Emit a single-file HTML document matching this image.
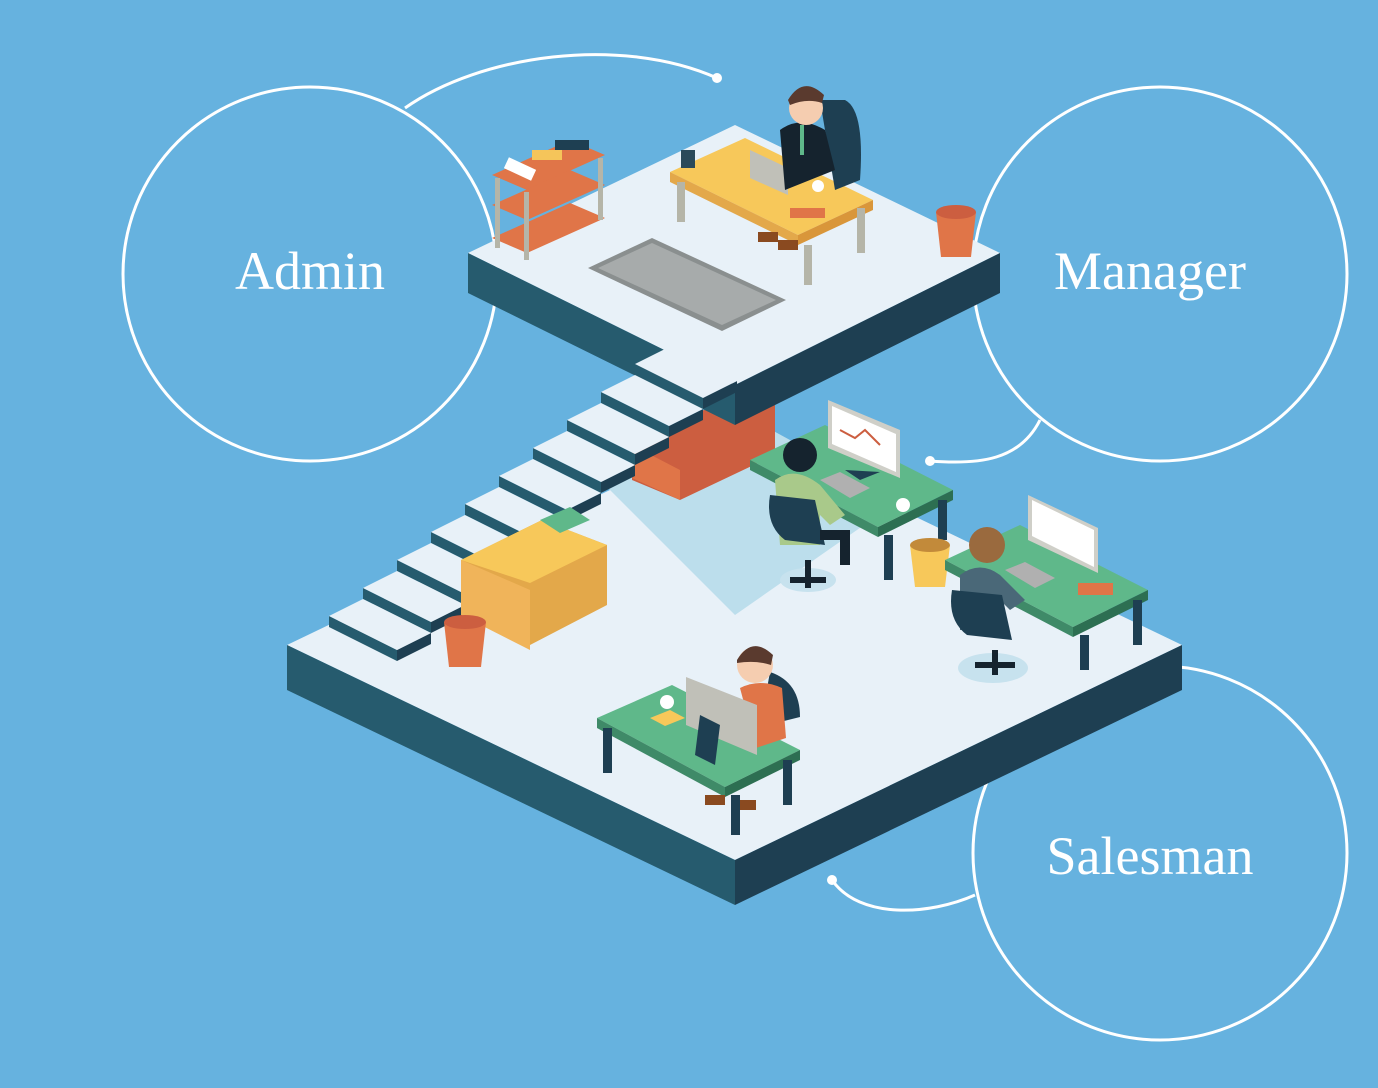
<!DOCTYPE html>
<html><head><meta charset="utf-8"><style>
html,body{margin:0;padding:0;background:#66b2df;}
svg{display:block}
text{font-family:"Liberation Serif",serif;fill:#fff;}
</style></head><body>
<svg width="1378" height="1088" viewBox="0 0 1378 1088" xmlns="http://www.w3.org/2000/svg">
<rect width="1378" height="1088" fill="#66b2df"/>
<g fill="none" stroke="#fff" stroke-width="3">
<circle cx="310" cy="274" r="187"/>
<circle cx="1160" cy="274" r="187"/>
<circle cx="1160" cy="853" r="187"/>
<path d="M405 108 C480 55 620 35 717 78"/>
<path d="M1040 420 C1020 460 980 465 930 461"/>
<path d="M975 895 C930 915 860 920 832 880"/>
</g>
<g fill="#fff"><circle cx="717" cy="78" r="5"/><circle cx="930" cy="461" r="5"/><circle cx="832" cy="880" r="5"/></g>
<text x="310" y="289" font-size="54" text-anchor="middle">Admin</text>
<text x="1150" y="289" font-size="54" text-anchor="middle">Manager</text>
<text x="1150" y="874" font-size="54" text-anchor="middle">Salesman</text>

<!-- lower platform -->
<polygon points="287,645 735,430 1182,645 735,860" fill="#e8f1f8"/>
<polygon points="287,645 735,860 735,905 287,690" fill="#265b6e"/>
<polygon points="735,860 1182,645 1182,690 735,905" fill="#1e3f52"/>
<polygon points="600,480 735,410 900,500 735,615" fill="#bcdeec"/>

<!-- orange cabinet -->
<polygon points="632,445 735,395 775,405 775,455 680,500 632,480" fill="#cc5e40"/>
<polygon points="632,445 680,470 680,500 632,478" fill="#e07548"/>

<!-- upper platform -->
<polygon points="468,253 735,125 1000,253 735,385" fill="#e8f1f8"/>
<polygon points="468,253 735,385 735,425 468,293" fill="#265b6e"/>
<polygon points="735,385 1000,253 1000,293 735,425" fill="#1e3f52"/>

<!-- stairs (top to bottom) -->
<g>
<polygon points="635,364 703,398 703,409 635,375" fill="#265b6e"/><polygon points="703,398 737,381 737,392 703,409" fill="#1e3f52"/><polygon points="635,364 669,347 737,381 703,398" fill="#e8f1f8"/>
<polygon points="601,392 669,426 669,437 601,403" fill="#265b6e"/><polygon points="669,426 703,409 703,420 669,437" fill="#1e3f52"/><polygon points="601,392 635,375 703,409 669,426" fill="#e8f1f8"/>
<polygon points="567,420 635,454 635,465 567,431" fill="#265b6e"/><polygon points="635,454 669,437 669,448 635,465" fill="#1e3f52"/><polygon points="567,420 601,403 669,437 635,454" fill="#e8f1f8"/>
<polygon points="533,448 601,482 601,493 533,459" fill="#265b6e"/><polygon points="601,482 635,465 635,476 601,493" fill="#1e3f52"/><polygon points="533,448 567,431 635,465 601,482" fill="#e8f1f8"/>
<polygon points="499,476 567,510 567,521 499,487" fill="#265b6e"/><polygon points="567,510 601,493 601,504 567,521" fill="#1e3f52"/><polygon points="499,476 533,459 601,493 567,510" fill="#e8f1f8"/>
<polygon points="465,504 533,538 533,549 465,515" fill="#265b6e"/><polygon points="533,538 567,521 567,532 533,549" fill="#1e3f52"/><polygon points="465,504 499,487 567,521 533,538" fill="#e8f1f8"/>
<polygon points="431,532 499,566 499,577 431,543" fill="#265b6e"/><polygon points="499,566 533,549 533,560 499,577" fill="#1e3f52"/><polygon points="431,532 465,515 533,549 499,566" fill="#e8f1f8"/>
<polygon points="397,560 465,594 465,605 397,571" fill="#265b6e"/><polygon points="465,594 499,577 499,588 465,605" fill="#1e3f52"/><polygon points="397,560 431,543 499,577 465,594" fill="#e8f1f8"/>
<polygon points="363,588 431,622 431,633 363,599" fill="#265b6e"/><polygon points="431,622 465,605 465,616 431,633" fill="#1e3f52"/><polygon points="363,588 397,571 465,605 431,622" fill="#e8f1f8"/>
<polygon points="329,616 397,650 397,661 329,627" fill="#265b6e"/><polygon points="397,650 431,633 431,644 397,661" fill="#1e3f52"/><polygon points="329,616 363,599 431,633 397,650" fill="#e8f1f8"/>
</g>

<!-- grate -->
<polygon points="588,268 652,238 786,300 722,331" fill="#8a8f8f"/>
<polygon points="598,268 652,243 776,300 722,325" fill="#a7abab"/>
<!-- shelf -->
<polygon points="492,175 570,140 605,155 527,190" fill="#e07548"/>
<polygon points="492,205 570,170 605,185 527,220" fill="#e07548"/>
<polygon points="492,238 570,203 605,218 527,253" fill="#e07548"/>
<rect x="495" y="178" width="5" height="70" fill="#b5b5a8"/>
<rect x="524" y="192" width="5" height="68" fill="#b5b5a8"/>
<rect x="598" y="158" width="5" height="62" fill="#b5b5a8"/>
<rect x="505" y="163" width="30" height="12" fill="#fff" transform="rotate(25 520 169)"/>
<rect x="532" y="150" width="30" height="10" fill="#f5c55a"/>
<rect x="555" y="140" width="34" height="10" fill="#1e3f52"/>
<!-- manager desk -->
<polygon points="670,172 745,138 873,200 798,235" fill="#f7c85a"/>
<polygon points="670,172 798,235 798,245 670,182" fill="#e3a84a"/>
<polygon points="798,235 873,200 873,210 798,245" fill="#d9963a"/>
<rect x="677" y="182" width="8" height="40" fill="#b5b5a8"/>
<rect x="804" y="245" width="8" height="40" fill="#b5b5a8"/>
<rect x="857" y="208" width="8" height="45" fill="#b5b5a8"/>
<polygon points="750,150 788,168 788,195 750,178" fill="#c0c0b8"/>
<rect x="790" y="208" width="35" height="10" fill="#e07548"/>
<circle cx="818" cy="186" r="6" fill="#fff"/>
<rect x="681" y="150" width="14" height="18" fill="#2a4a5a"/>
<path d="M820 100 h25 q20 10 15 80 l-25 10z" fill="#1e3f52"/>
<path d="M780 130 q20-15 45 0 l10 40 l-50 20z" fill="#15232e"/>
<circle cx="806" cy="108" r="17" fill="#f5cdb0"/>
<path d="M788 100 q15-25 36-5 l-2 8 q-15-5-32 2z" fill="#5a3a2e"/>
<rect x="800" y="125" width="4" height="30" fill="#5fb88a"/>
<rect x="758" y="232" width="20" height="10" fill="#8a4a20"/>
<rect x="778" y="240" width="20" height="10" fill="#8a4a20"/>
<path d="M936 212 h40 l-5 45 h-30z" fill="#e07548"/>
<ellipse cx="956" cy="212" rx="20" ry="7" fill="#cc5e40"/>

<!-- yellow cabinet -->
<polygon points="461,560 542,520 607,545 607,605 530,645 461,613" fill="#e3a84a"/>
<polygon points="461,560 530,590 530,650 461,615" fill="#f0b45a"/>
<polygon points="461,560 542,520 607,545 530,583" fill="#f7c85a"/>
<polygon points="540,520 570,507 590,520 560,533" fill="#5fb88a"/>
<path d="M444 622 h42 l-5 45 h-32z" fill="#e07548"/>
<ellipse cx="465" cy="622" rx="21" ry="7" fill="#cc5e40"/>

<!-- desk 1 -->
<polygon points="750,460 825,425 953,490 878,527" fill="#5fb88a"/>
<polygon points="750,460 878,527 878,537 750,470" fill="#3f8a68"/>
<polygon points="878,527 953,490 953,500 878,537" fill="#2d6f52"/>
<rect x="884" y="535" width="9" height="45" fill="#1e3f52"/>
<rect x="938" y="500" width="9" height="40" fill="#1e3f52"/>
<polygon points="828,400 900,430 900,478 828,448" fill="#cfcfc8"/>
<polygon points="832,406 896,434 896,472 832,444" fill="#fff"/>
<polyline points="840,430 855,438 865,430 880,445" fill="none" stroke="#cc5e40" stroke-width="2"/>
<polygon points="845,470 860,480 880,472" fill="#1e3f52"/>
<polygon points="820,480 840,472 870,488 850,498" fill="#b0b0b0"/>
<circle cx="903" cy="505" r="7" fill="#fff"/>
<circle cx="800" cy="455" r="17" fill="#15232e"/>
<path d="M775 480 q20-15 45 5 l25 30 l-15 10 l-10-10 l0 30 l-40 0z" fill="#a9c98a"/>
<path d="M770 495 q-5 30 15 45 l40 5 l-10 -45z" fill="#1e3f52"/>
<ellipse cx="808" cy="580" rx="28" ry="12" fill="#c7e2ee"/>
<path d="M790 580 h36 M808 560 v28" stroke="#15232e" stroke-width="6"/>
<path d="M820 530 h30 v35 h-10 v-25 h-20z" fill="#15232e"/>
<path d="M910 545 h40 l-5 42 h-30z" fill="#f7c85a"/>
<ellipse cx="930" cy="545" rx="20" ry="7" fill="#c28a3a"/>

<!-- desk 2 -->
<polygon points="945,560 1020,525 1148,590 1073,627" fill="#5fb88a"/>
<polygon points="945,560 1073,627 1073,637 945,570" fill="#3f8a68"/>
<polygon points="1073,627 1148,590 1148,600 1073,637" fill="#2d6f52"/>
<rect x="1080" y="635" width="9" height="35" fill="#1e3f52"/>
<rect x="1133" y="600" width="9" height="45" fill="#1e3f52"/>
<polygon points="1028,495 1098,528 1098,573 1028,540" fill="#cfcfc8"/>
<polygon points="1032,500 1094,530 1094,567 1032,536" fill="#fff"/>
<polygon points="1005,570 1025,562 1055,578 1035,588" fill="#b0b0b0"/>
<rect x="1078" y="583" width="35" height="12" fill="#e07548"/>
<circle cx="987" cy="545" r="18" fill="#9a6a3e"/>
<path d="M960 575 q20-15 40 0 l25 25 l-15 10 l-10-10 l0 30 l-40 0z" fill="#4a6878"/>
<path d="M952 590 q-5 30 15 45 l45 5 l-10-45z" fill="#1e3f52"/>
<ellipse cx="993" cy="668" rx="35" ry="15" fill="#c7e2ee"/>
<path d="M975 665 h40 M995 650 v25" stroke="#15232e" stroke-width="6"/>

<!-- desk 3 -->
<polygon points="597,718 672,685 800,750 725,787" fill="#5fb88a"/>
<polygon points="597,718 725,787 725,797 597,728" fill="#3f8a68"/>
<polygon points="725,787 800,750 800,760 725,797" fill="#2d6f52"/>
<rect x="603" y="728" width="9" height="45" fill="#1e3f52"/>
<rect x="731" y="795" width="9" height="40" fill="#1e3f52"/>
<rect x="783" y="760" width="9" height="45" fill="#1e3f52"/>
<path d="M770 672 q30 10 30 45 l-40 10z" fill="#1e3f52"/>
<circle cx="755" cy="665" r="18" fill="#f5cdb0"/>
<path d="M737 660 q15-25 36-5 l-2 10 q-15-5-34 -2z" fill="#5a3a2e"/>
<path d="M740 688 q20-10 42 0 l4 50 l-30 10z" fill="#e07548"/>
<polygon points="686,677 757,705 757,755 686,725" fill="#c0c0b8"/>
<polygon points="700,715 720,725 715,765 695,755" fill="#1e3f52"/>
<polygon points="650,718 670,710 685,718 665,726" fill="#f7c85a"/>
<circle cx="667" cy="702" r="7" fill="#fff"/>
<rect x="705" y="795" width="20" height="10" fill="#8a4a20"/>
<rect x="740" y="800" width="16" height="10" fill="#8a4a20"/>
</svg>
</body></html>
